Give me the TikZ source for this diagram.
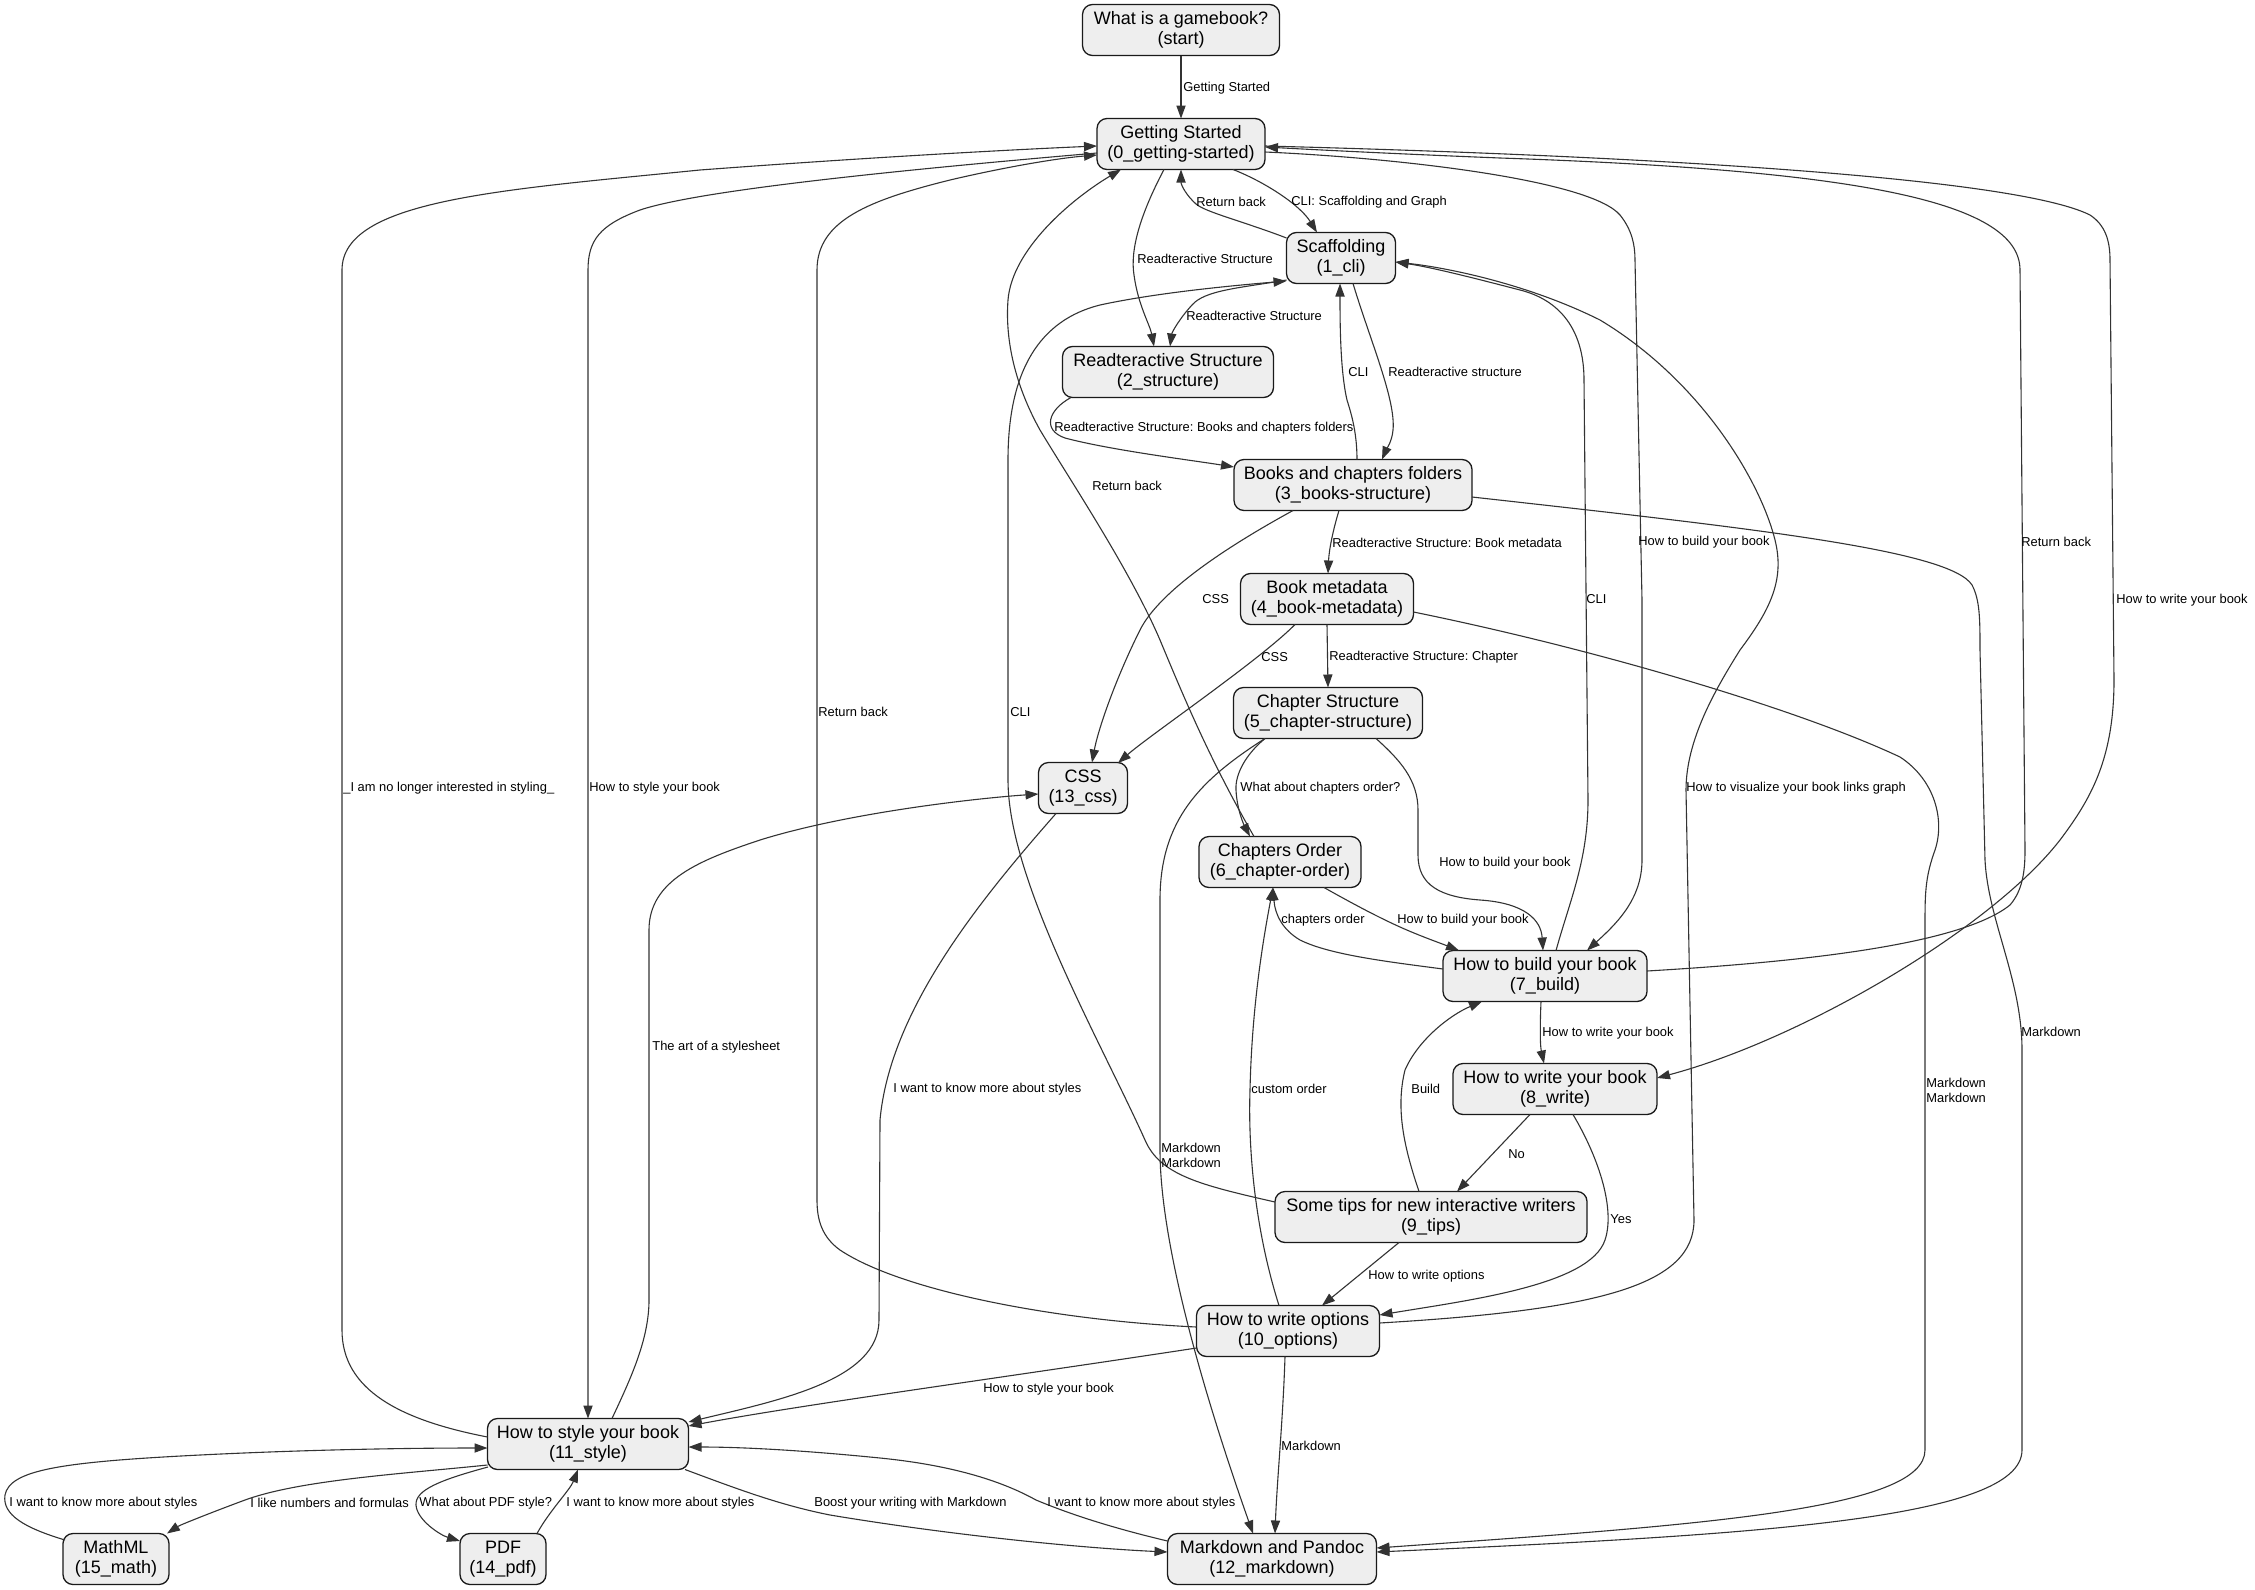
\documentclass[tikz,border=0pt]{standalone}
\usepackage{fontspec}
\setmainfont{Liberation Sans}
\usetikzlibrary{arrows.meta,calc}
\definecolor{edgecol}{HTML}{333333}
\definecolor{nodefill}{HTML}{EEEEEE}
\definecolor{nodeborder}{HTML}{1A1A1A}
\newcommand{\nfont}{\fontsize{9}{10}\selectfont}
\newcommand{\lfont}{\fontsize{6.45}{7.5}\selectfont}
\tikzset{
  gnode/.style={draw=nodeborder, fill=nodefill, rounded corners=5pt, line width=0.65pt,
    align=center, font=\nfont, inner sep=0pt, minimum height=25.5pt},
  edge/.style={draw=edgecol, line width=0.55pt, -{Triangle[length=6.5pt,width=4.6pt]}},
  lbl/.style={font=\lfont, inner sep=0pt, anchor=west, text=black, align=left}
}
\frenchspacing
\begin{document}
\begin{tikzpicture}[x=0.5pt,y=-0.5pt]
\fill[white] (0,0) rectangle (2255,1590);
\useasboundingbox (0,0) rectangle (2255,1590);

% nodes
\node[gnode, minimum width=98.5pt] (start) at (1181,30) {What is a gamebook?\\(start)};
\node[gnode, minimum width=84pt] (gs) at (1181,144) {Getting Started\\(0\_getting-started)};
\node[gnode, minimum width=54.5pt] (cli) at (1341,258) {Scaffolding\\(1\_cli)};
\node[gnode, minimum width=105.5pt] (structure) at (1168,372) {Readteractive Structure\\(2\_structure)};
\node[gnode, minimum width=119pt] (books) at (1353,485) {Books and chapters folders\\(3\_books-structure)};
\node[gnode, minimum width=86.5pt] (meta) at (1327,599) {Book metadata\\(4\_book-metadata)};
\node[gnode, minimum width=94.5pt] (chap) at (1328,713) {Chapter Structure\\(5\_chapter-structure)};
\node[gnode, minimum width=44.5pt] (css) at (1083,788) {CSS\\(13\_css)};
\node[gnode, minimum width=81pt] (order) at (1280,862) {Chapters Order\\(6\_chapter-order)};
\node[gnode, minimum width=102pt] (build) at (1545,976) {How to build your book\\(7\_build)};
\node[gnode, minimum width=102pt] (write) at (1555,1089) {How to write your book\\(8\_write)};
\node[gnode, minimum width=156pt] (tips) at (1431,1217) {Some tips for new interactive writers\\(9\_tips)};
\node[gnode, minimum width=91.5pt] (options) at (1288,1331) {How to write options\\(10\_options)};
\node[gnode, minimum width=100.5pt] (style) at (588,1444) {How to style your book\\(11\_style)};
\node[gnode, minimum width=53pt] (math) at (116,1559) {MathML\\(15\_math)};
\node[gnode, minimum width=43pt] (pdf) at (503,1559) {PDF\\(14\_pdf)};
\node[gnode, minimum width=104.5pt] (md) at (1272,1559) {Markdown and Pandoc\\(12\_markdown)};

% edges
\draw[edge] ($(start)+(0,25.5)$) -- ($(gs)+(0,-25.5)$);
\draw[edge] ($(gs)+(52,25.5)$) .. controls (1265,182) and (1300,205) .. ($(cli)+(-24,-25.5)$);
\draw[edge] ($(cli)+(-54.5,-20)$) .. controls (1245,222) and (1205,212) .. (1196,204) .. controls (1186,195) and (1181,185) .. ($(gs)+(0,25.5)$);
\draw[edge] ($(gs)+(-17,25.5)$) .. controls (1140,215) and (1130,250) .. (1134,275) .. controls (1138,305) and (1150,325) .. ($(structure)+(-14,-25.5)$);
\draw[edge] ($(cli)+(-54.5,22)$) .. controls (1240,288) and (1205,290) .. (1192,305) .. controls (1180,318) and (1172,332) .. ($(structure)+(2,-25.5)$);
\draw[edge] ($(cli)+(12,25.5)$) .. controls (1370,340) and (1396,400) .. (1393,430) .. controls (1392,442) and (1386,450) .. ($(books)+(29,-25.5)$);
\draw[edge] ($(books)+(4,-25.5)$) .. controls (1357,430) and (1350,410) .. (1347,400) .. controls (1340,370) and (1340,320) .. ($(cli)+(-1,25.5)$);
\draw[edge] ($(structure)+(-97,25.5)$) .. controls (1048,410) and (1042,430) .. (1065,438) .. controls (1110,450) and (1190,460) .. ($(books)+(-119,-18)$);
\draw[edge] ($(books)+(-14,25.5)$) .. controls (1333,530) and (1329,550) .. ($(meta)+(1,-25.5)$);
\draw[edge] ($(meta)+(0,25.5)$) -- ($(chap)+(0,-25.5)$);
\draw[edge] ($(books)+(-60,25.5)$) .. controls (1230,545) and (1160,590) .. (1140,630) .. controls (1115,680) and (1098,730) .. ($(css)+(9,-25.5)$);
\draw[edge] ($(meta)+(-32,25.5)$) .. controls (1260,660) and (1150,735) .. ($(css)+(35,-25)$);
\draw[edge] ($(chap)+(-63,25.5)$) .. controls (1245,755) and (1235,775) .. (1236,790) .. controls (1237,810) and (1244,825) .. ($(order)+(-30,-25.5)$);
\draw[edge] ($(chap)+(48,25.5)$) .. controls (1400,760) and (1418,780) .. (1418,810) -- (1418,855) .. controls (1418,885) and (1440,897) .. (1480,900) .. controls (1525,903) and (1541,920) .. ($(build)+(-2,-25.5)$);
\draw[edge] ($(order)+(44,25.5)$) .. controls (1355,905) and (1380,918) .. (1400,927) .. controls (1420,936) and (1440,943) .. ($(build)+(-86,-25.5)$);
\draw[edge] ($(build)+(-102,-7)$) .. controls (1390,962) and (1330,955) .. (1300,940) .. controls (1283,930) and (1275,915) .. ($(order)+(-7,25.5)$);
\draw[edge] ($(build)+(-4,25.5)$) .. controls (1540,1025) and (1540,1045) .. ($(write)+(-11,-25.5)$);
\draw[edge] ($(write)+(-25,25.5)$) -- ($(tips)+(26,-25.5)$);
\draw[edge] ($(write)+(18,25.5)$) .. controls (1600,1160) and (1615,1210) .. (1605,1240) .. controls (1590,1285) and (1470,1300) .. ($(options)+(91.5,-16)$);
\draw[edge] ($(tips)+(-32,25.5)$) -- ($(options)+(34,-25.5)$);
\draw[edge] ($(tips)+(-12,-25.5)$) .. controls (1405,1150) and (1395,1110) .. (1405,1070) .. controls (1418,1040) and (1450,1015) .. ($(build)+(-63,25.5)$);
\draw[edge] ($(tips)+(-156,-15)$) .. controls (1200,1185) and (1160,1175) .. (1145,1140) .. controls (1100,1040) and (1008,880) .. (1008,780) -- (1008,460) .. controls (1008,370) and (1040,320) .. (1100,305) .. controls (1160,292) and (1240,285) .. ($(cli)+(-54.5,23)$);
\draw[edge] ($(options)+(-9,-25.5)$) .. controls (1255,1230) and (1248,1150) .. (1250,1090) .. controls (1252,1000) and (1265,930) .. ($(order)+(-7,25.5)$);
\draw[edge] ($(options)+(-91.5,-4)$) .. controls (1050,1320) and (900,1290) .. (840,1250) .. controls (822,1237) and (817,1220) .. (817,1200) -- (817,270) .. controls (817,220) and (870,200) .. (950,180) .. controls (1010,166) and (1060,158) .. ($(gs)+(-84,11)$);
\draw[edge] ($(options)+(91.5,-8)$) .. controls (1600,1310) and (1694,1285) .. (1694,1220) -- (1686,790) .. controls (1686,740) and (1715,690) .. (1740,650) .. controls (1770,610) and (1785,580) .. (1775,540) .. controls (1760,480) and (1700,380) .. (1600,320) .. controls (1530,285) and (1450,268) .. ($(cli)+(54.5,4)$);
\draw[edge] ($(options)+(-91.5,17)$) .. controls (1000,1378) and (800,1405) .. ($(style)+(100.5,-18)$);
\draw[edge] ($(options)+(-3,25.5)$) .. controls (1283,1420) and (1277,1480) .. ($(md)+(3,-25.5)$);
\draw[edge] ($(chap)+(-63,25.5)$) .. controls (1200,780) and (1160,820) .. (1160,900) -- (1160,1150) .. controls (1160,1260) and (1220,1440) .. ($(md)+(-19,-25.5)$);
\draw[edge] ($(meta)+(86.5,13)$) .. controls (1600,650) and (1800,710) .. (1900,757) .. controls (1935,780) and (1945,820) .. (1935,850) .. controls (1926,875) and (1925,890) .. (1925,920) -- (1925,1450) .. controls (1925,1510) and (1700,1525) .. ($(md)+(104.5,-11)$);
\draw[edge] ($(books)+(119,12)$) .. controls (1750,528) and (1950,550) .. (1972,585) .. controls (1980,600) and (1980,620) .. (1980,650) -- (1985,860) .. controls (1988,920) and (2022,980) .. (2022,1050) -- (2022,1450) .. controls (2022,1520) and (1750,1535) .. ($(md)+(104.5,-7)$);
\draw[edge] ($(build)+(102,-5)$) .. controls (1800,962) and (1960,945) .. (2010,905) .. controls (2023,890) and (2025,870) .. (2025,850) -- (2020,270) .. controls (2020,200) and (1850,170) .. (1500,158) .. controls (1400,154) and (1320,150) .. ($(gs)+(84,3)$);
\draw[edge] ($(gs)+(84,8)$) .. controls (1400,158) and (1590,180) .. (1620,215) .. controls (1632,230) and (1635,245) .. (1635,260) -- (1642,600) -- (1642,860) .. controls (1642,900) and (1615,925) .. ($(build)+(42,-25.5)$);
\draw[edge] ($(gs)+(84,2)$) .. controls (1500,152) and (2000,170) .. (2090,215) .. controls (2105,225) and (2110,240) .. (2110,260) -- (2114,680) .. controls (2114,760) and (2090,800) .. (2060,840) .. controls (1990,930) and (1800,1040) .. ($(write)+(102,-11)$);
\draw[edge] ($(build)+(11,-25.5)$) .. controls (1570,900) and (1588,860) .. (1588,800) -- (1584,380) .. controls (1584,330) and (1560,300) .. (1520,290) .. controls (1470,277) and (1430,267) .. ($(cli)+(54.5,4)$);
\draw[edge] ($(style)+(-100.5,-7)$) .. controls (400,1420) and (342,1390) .. (342,1330) -- (342,270) .. controls (342,200) and (500,190) .. (700,170) .. controls (900,155) and (1050,148) .. ($(gs)+(-84,2)$);
\draw[edge] ($(gs)+(-84,9)$) .. controls (900,170) and (700,190) .. (640,210) .. controls (600,225) and (588,240) .. (588,270) -- ($(style)+(0,-25.5)$);
\draw[edge] ($(style)+(24,-25.5)$) .. controls (630,1380) and (649,1340) .. (649,1300) -- (649,930) .. controls (649,880) and (700,860) .. (760,840) .. controls (850,812) and (980,798) .. ($(css)+(-44.5,6)$);
\draw[edge] ($(css)+(-27,25.5)$) .. controls (980,900) and (890,1010) .. (880,1120) -- (879,1320) .. controls (879,1380) and (780,1400) .. ($(style)+(100.5,-22)$);
\draw[edge] ($(order)+(-26,-25.5)$) .. controls (1210,760) and (1185,700) .. (1160,640) .. controls (1130,570) and (1070,480) .. (1040,430) .. controls (1015,385) and (1005,340) .. (1008,300) .. controls (1012,250) and (1070,200) .. ($(gs)+(-60,25.5)$);
\draw[edge] ($(style)+(-100.5,21)$) .. controls (400,1474) and (300,1480) .. (245,1500) .. controls (210,1513) and (180,1525) .. ($(math)+(51,-25.5)$);
\draw[edge] ($(math)+(-51,-19)$) .. controls (25,1528) and (2,1515) .. (5,1495) .. controls (10,1470) and (60,1462) .. (200,1455) .. controls (300,1450) and (400,1448) .. ($(style)+(-100.5,4)$);
\draw[edge] ($(style)+(-100,23)$) .. controls (440,1480) and (415,1490) .. (416,1505) .. controls (417,1520) and (440,1535) .. ($(pdf)+(-43,-18)$);
\draw[edge] ($(pdf)+(34,-25.5)$) .. controls (550,1510) and (570,1490) .. ($(style)+(-10,25.5)$);
\draw[edge] ($(style)+(97,25.5)$) .. controls (740,1490) and (780,1505) .. (830,1515) .. controls (950,1535) and (1080,1548) .. ($(md)+(-104.5,-7)$);
\draw[edge] ($(md)+(-104.5,-18)$) .. controls (1100,1525) and (1060,1510) .. (1036,1500) .. controls (1000,1480) and (950,1465) .. (880,1458) .. controls (800,1450) and (740,1447) .. ($(style)+(100.5,3)$);

% labels
\node[lbl] (l1) at (1183,88) {Getting Started};
\node[lbl] (l2) at (1291,202) {CLI: Scaffolding and Graph};
\node[lbl] (l3) at (1196,202) {Return back};
\node[lbl] (l4) at (1137,259) {Readteractive Structure};
\node[lbl] (l5) at (1186,316) {Readteractive Structure};
\node[lbl] (l6) at (1388,372) {Readteractive structure};
\node[lbl] (l7) at (1348,372) {CLI};
\node[lbl] (l8) at (1054,428) {Readteractive Structure: Books and chapters folders};
\node[lbl] (l9) at (1332,543) {Readteractive Structure: Book metadata};
\node[lbl] (l10) at (1329,657) {Readteractive Structure: Chapter};
\node[lbl] (l11) at (1202,599) {CSS};
\node[lbl] (l12) at (1261,657) {CSS};
\node[lbl] (l13) at (1240,788) {What about chapters order?};
\node[lbl] (l14) at (1439,863) {How to build your book};
\node[lbl] (l15) at (1397,920) {How to build your book};
\node[lbl] (l16) at (1281,920) {chapters order};
\node[lbl] (l17) at (1542,1033) {How to write your book};
\node[lbl] (l18) at (1508,1154) {No};
\node[lbl] (l19) at (1610,1219) {Yes};
\node[lbl] (l20) at (1368,1276) {How to write options};
\node[lbl] (l21) at (1411,1089) {Build};
\node[lbl] (l22) at (1010,712) {CLI};
\node[lbl] (l23) at (1251,1089) {custom order};
\node[lbl] (l24) at (818,712) {Return back};
\node[lbl] (l25) at (1686,788) {How to visualize your book links graph};
\node[lbl] (l26) at (983,1389) {How to style your book};
\node[lbl] (l27) at (1281,1446) {Markdown};
\node[lbl] (l28) at (1161,1155) {Markdown\\Markdown};
\node[lbl] (l29) at (1926,1090) {Markdown\\Markdown};
\node[lbl] (l30) at (2021,1032) {Markdown};
\node[lbl] (l31) at (2021,542) {Return back};
\node[lbl] (l32) at (1638,542) {How to build your book};
\node[lbl] (l33) at (2116,600) {How to write your book};
\node[lbl] (l34) at (1586,599) {CLI};
\node[lbl] (l35) at (343,788) {\_I am no longer interested in styling\_};
\node[lbl] (l36) at (589,788) {How to style your book};
\node[lbl] (l37) at (652,1047) {The art of a stylesheet};
\node[lbl] (l38) at (893,1089) {I want to know more about styles};
\node[lbl] (l39) at (1092,486) {Return back};
\node[lbl] (l40) at (250,1503) {I like numbers and formulas};
\node[lbl] (l41) at (9,1503) {I want to know more about styles};
\node[lbl] (l42) at (419,1503) {What about PDF style?};
\node[lbl] (l43) at (566,1503) {I want to know more about styles};
\node[lbl] (l44) at (814,1503) {Boost your writing with Markdown};
\node[lbl] (l45) at (1047,1503) {I want to know more about styles};
\end{tikzpicture}
\end{document}
